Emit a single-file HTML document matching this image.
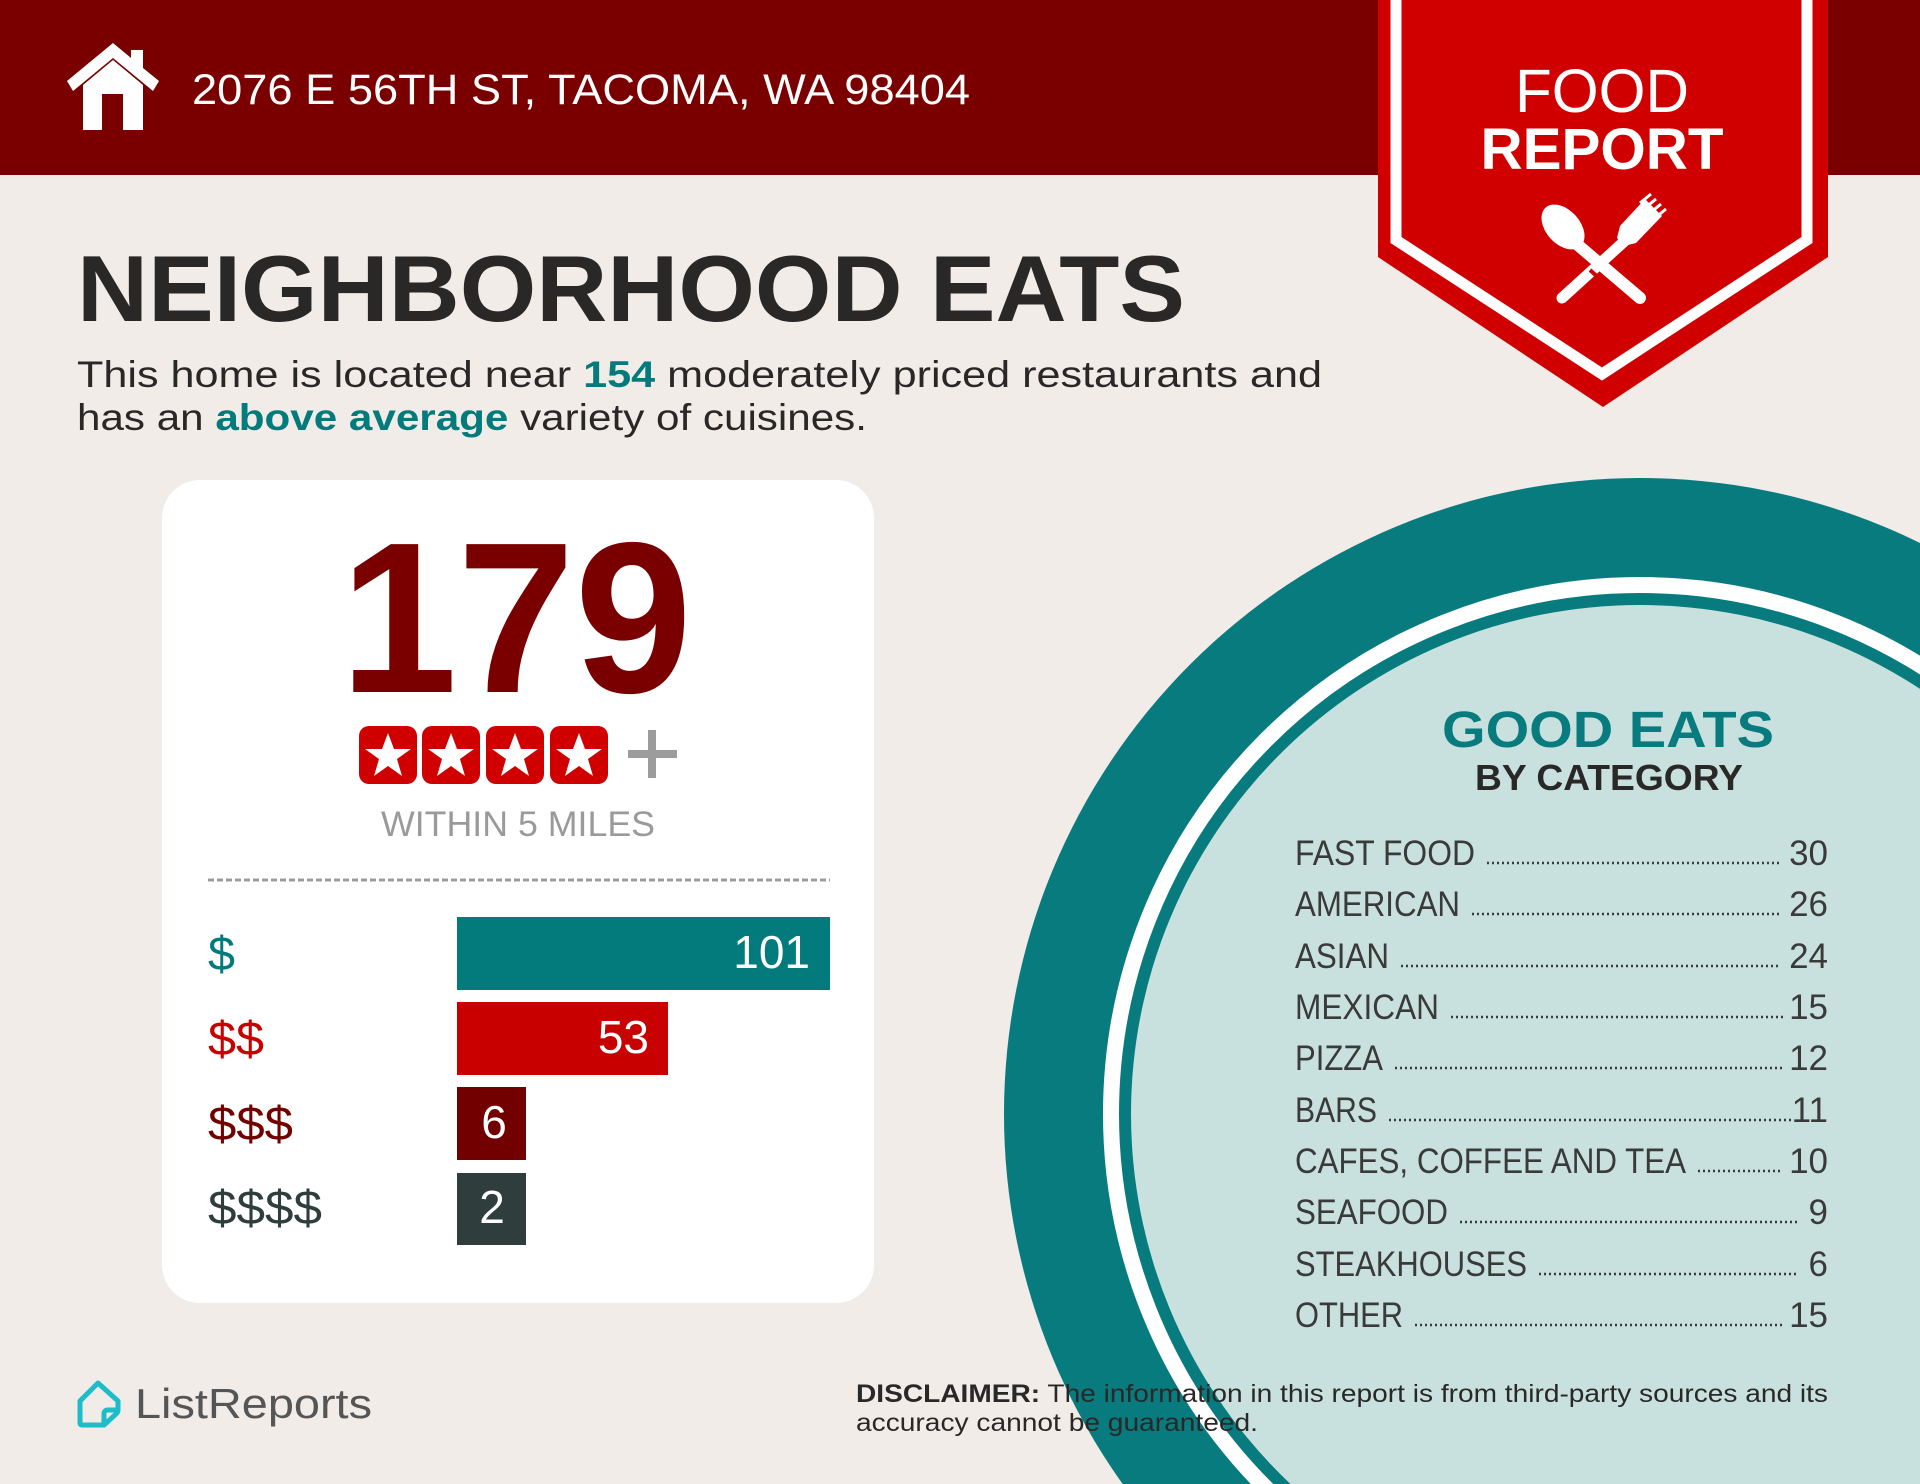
<!DOCTYPE html>
<html><head><meta charset="utf-8"><style>
html,body{margin:0;padding:0;background:#f1ece8;width:1920px;height:1484px;overflow:hidden;}
svg{display:block;}
text{font-family:"Liberation Sans",sans-serif;}
</style></head><body>
<svg width="1920" height="1484" viewBox="0 0 1920 1484" xmlns="http://www.w3.org/2000/svg">
<rect width="1920" height="1484" fill="#f1ece8"/>
<rect x="0" y="0" width="1920" height="175" fill="#7a0000"/>
<polygon points="67,81 113,43 131,58 131,50 143,50 143,68 159,81 153,91 113,58 73,91" fill="#fff"/>
<path d="M83,85 L113,60 L143,85 L143,130 L123,130 L123,94 L102,94 L102,130 L83,130 Z" fill="#fff"/>
<text x="192" y="104" font-size="43" fill="#fff" textLength="778" lengthAdjust="spacingAndGlyphs">2076 E 56TH ST, TACOMA, WA 98404</text>

<polygon points="1378,0 1828,0 1828,257 1603,407 1378,257" fill="#d00000"/>
<polyline points="1396,0 1396,240 1602,374 1807,240 1807,0" fill="none" stroke="#fff" stroke-width="11"/>
<text x="1602" y="112" font-size="61" fill="#fff" text-anchor="middle" textLength="174" lengthAdjust="spacingAndGlyphs">FOOD</text>
<text x="1602" y="169" font-size="58" font-weight="bold" fill="#fff" text-anchor="middle" textLength="243" lengthAdjust="spacingAndGlyphs">REPORT</text>
<g fill="#fff">
<ellipse cx="1563" cy="227" rx="17" ry="26" transform="rotate(-42 1563 227)"/>
<line x1="1572" y1="240" x2="1640" y2="298" stroke="#fff" stroke-width="12" stroke-linecap="round"/>
<line x1="1628" y1="238" x2="1562" y2="298" stroke="#fff" stroke-width="11" stroke-linecap="round"/>
<path d="M1617,238 L1620,226 L1645,199 L1662,216 L1636,243 L1624,246 Z"/>
<line x1="1640" y1="203" x2="1651" y2="194" stroke="#fff" stroke-width="3"/>
<line x1="1645" y1="208" x2="1656" y2="199" stroke="#fff" stroke-width="3"/>
<line x1="1650" y1="213" x2="1661" y2="204" stroke="#fff" stroke-width="3"/>
<line x1="1655" y1="218" x2="1666" y2="209" stroke="#fff" stroke-width="3"/>
</g>
<line x1="1590" y1="270" x2="1601" y2="280" stroke="#d00000" stroke-width="4"/>

<text x="77" y="321" font-size="94" font-weight="bold" fill="#2a2727" textLength="1108" lengthAdjust="spacingAndGlyphs">NEIGHBORHOOD EATS</text>
<text x="77" y="387" font-size="37" fill="#2a2727" textLength="1245" lengthAdjust="spacingAndGlyphs">This home is located near <tspan fill="#037a7c" font-weight="bold">154</tspan> moderately priced restaurants and</text>
<text x="77" y="430" font-size="37" fill="#2a2727" textLength="790" lengthAdjust="spacingAndGlyphs">has an <tspan fill="#037a7c" font-weight="bold">above average</tspan> variety of cuisines.</text>

<circle cx="1640" cy="1114" r="636" fill="#087b7e"/>
<circle cx="1640" cy="1114" r="529" fill="none" stroke="#fff" stroke-width="16"/>
<circle cx="1640" cy="1114" r="509" fill="#c8e1de"/>
<text x="1608" y="747" font-size="51" font-weight="bold" fill="#087b7e" text-anchor="middle" textLength="332" lengthAdjust="spacingAndGlyphs">GOOD EATS</text>
<text x="1609" y="790" font-size="36" font-weight="bold" fill="#2a2727" text-anchor="middle" textLength="268" lengthAdjust="spacingAndGlyphs">BY CATEGORY</text>
<g font-size="35" fill="#3a3a3a">
<text x="1295" y="865" textLength="180" lengthAdjust="spacingAndGlyphs">FAST FOOD</text>
<text x="1828" y="865" text-anchor="end">30</text>
<text x="1295" y="916" textLength="165" lengthAdjust="spacingAndGlyphs">AMERICAN</text>
<text x="1828" y="916" text-anchor="end">26</text>
<text x="1295" y="968" textLength="94" lengthAdjust="spacingAndGlyphs">ASIAN</text>
<text x="1828" y="968" text-anchor="end">24</text>
<text x="1295" y="1019" textLength="144" lengthAdjust="spacingAndGlyphs">MEXICAN</text>
<text x="1828" y="1019" text-anchor="end">15</text>
<text x="1295" y="1070" textLength="88" lengthAdjust="spacingAndGlyphs">PIZZA</text>
<text x="1828" y="1070" text-anchor="end">12</text>
<text x="1295" y="1122" textLength="82" lengthAdjust="spacingAndGlyphs">BARS</text>
<text x="1828" y="1122" text-anchor="end">11</text>
<text x="1295" y="1173" textLength="391" lengthAdjust="spacingAndGlyphs">CAFES, COFFEE AND TEA</text>
<text x="1828" y="1173" text-anchor="end">10</text>
<text x="1295" y="1224" textLength="153" lengthAdjust="spacingAndGlyphs">SEAFOOD</text>
<text x="1828" y="1224" text-anchor="end">9</text>
<text x="1295" y="1276" textLength="232" lengthAdjust="spacingAndGlyphs">STEAKHOUSES</text>
<text x="1828" y="1276" text-anchor="end">6</text>
<text x="1295" y="1327" textLength="108" lengthAdjust="spacingAndGlyphs">OTHER</text>
<text x="1828" y="1327" text-anchor="end">15</text>
</g>
<g stroke="#3a3a3a" stroke-width="2.5" stroke-dasharray="2 3">
<line x1="1487" y1="863" x2="1779" y2="863"/>
<line x1="1472" y1="914" x2="1779" y2="914"/>
<line x1="1401" y1="966" x2="1779" y2="966"/>
<line x1="1451" y1="1017" x2="1783" y2="1017"/>
<line x1="1395" y1="1068" x2="1783" y2="1068"/>
<line x1="1389" y1="1120" x2="1793" y2="1120"/>
<line x1="1698" y1="1171" x2="1783" y2="1171"/>
<line x1="1460" y1="1222" x2="1797" y2="1222"/>
<line x1="1539" y1="1274" x2="1797" y2="1274"/>
<line x1="1415" y1="1325" x2="1783" y2="1325"/>
</g>

<rect x="162" y="480" width="712" height="823" rx="38" fill="#fff"/>
<text x="516" y="692" font-size="215" font-weight="bold" fill="#7a0000" text-anchor="middle" textLength="352" lengthAdjust="spacingAndGlyphs">179</text>
<rect x="359" y="726" width="58" height="58" rx="10" fill="#d00000"/>
<rect x="422" y="726" width="58" height="58" rx="10" fill="#d00000"/>
<rect x="486" y="726" width="58" height="58" rx="10" fill="#d00000"/>
<rect x="550" y="726" width="58" height="58" rx="10" fill="#d00000"/>
<g fill="#fff">
<polygon points="388,733 394,749 411,749 397,759 402,776 388,766 374,776 379,759 365,749 382,749"/>
<polygon points="451,733 457,749 474,749 460,759 465,776 451,766 437,776 442,759 428,749 445,749"/>
<polygon points="515,733 521,749 538,749 524,759 529,776 515,766 501,776 506,759 492,749 509,749"/>
<polygon points="579,733 585,749 602,749 588,759 593,776 579,766 565,776 570,759 556,749 573,749"/>
</g>
<rect x="628" y="750" width="49" height="8" fill="#9c9c9c"/>
<rect x="648" y="730" width="8" height="48" fill="#9c9c9c"/>
<text x="518" y="836" font-size="35" fill="#9a9a9a" text-anchor="middle" textLength="274" lengthAdjust="spacingAndGlyphs">WITHIN 5 MILES</text>
<line x1="208" y1="880" x2="830" y2="880" stroke="#9c9c9c" stroke-width="3" stroke-dasharray="6 3"/>
<rect x="457" y="917" width="373" height="73" fill="#037a7c"/>
<rect x="457" y="1002" width="211" height="73" fill="#c80000"/>
<rect x="457" y="1087" width="69" height="73" fill="#720000"/>
<rect x="457" y="1173" width="69" height="72" fill="#2f3e3d"/>
<g font-size="46" fill="#fff">
<text x="810" y="968" text-anchor="end">101</text>
<text x="649" y="1053" text-anchor="end">53</text>
<text x="494" y="1138" text-anchor="middle">6</text>
<text x="492" y="1223" text-anchor="middle">2</text>
</g>
<g font-size="48">
<text x="208" y="970" fill="#037a7c" textLength="27" lengthAdjust="spacingAndGlyphs">$</text>
<text x="208" y="1055" fill="#c80000" textLength="56" lengthAdjust="spacingAndGlyphs">$$</text>
<text x="208" y="1140" fill="#720000" textLength="85" lengthAdjust="spacingAndGlyphs">$$$</text>
<text x="208" y="1224" fill="#2f3e3d" textLength="114" lengthAdjust="spacingAndGlyphs">$$$$</text>
</g>

<path d="M80,1401 L98,1383 L118,1401 L118,1410 Q118,1412 116,1414 L104,1425 L82,1425 Q80,1425 80,1423 Z" fill="none" stroke="#1dbcc9" stroke-width="5" stroke-linejoin="round"/>
<path d="M104,1425 L104,1414 Q104,1410 108,1410 L118,1410" fill="none" stroke="#1dbcc9" stroke-width="5"/>
<text x="135" y="1418" font-size="42" fill="#555" textLength="237" lengthAdjust="spacingAndGlyphs">ListReports</text>

<text x="856" y="1402" font-size="25" fill="#2a2727" textLength="972" lengthAdjust="spacingAndGlyphs"><tspan font-weight="bold">DISCLAIMER:</tspan> The information in this report is from third-party sources and its</text>
<text x="856" y="1431" font-size="25" fill="#2a2727" textLength="402" lengthAdjust="spacingAndGlyphs">accuracy cannot be guaranteed.</text>
</svg>
</body></html>
